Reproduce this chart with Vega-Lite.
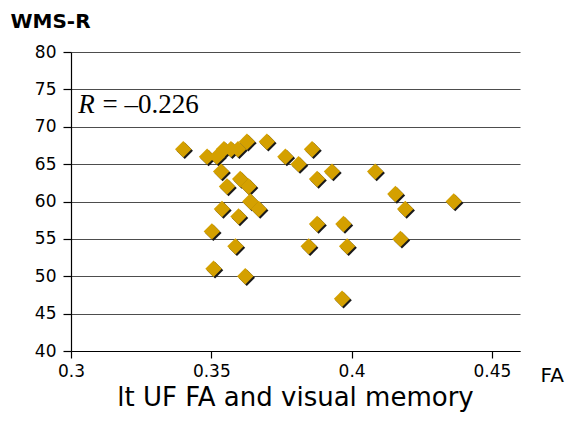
{
  "$schema": "https://vega.github.io/schema/vega-lite/v6.json",
  "width": 449,
  "height": 299,
  "autosize": {"type": "none"},
  "padding": {"left": 71, "top": 52, "right": 52, "bottom": 71},
  "background": "white",
  "config": {"view": {"stroke": null}, "font": "DejaVu Sans"},
  "title": {
    "text": "lt UF FA and visual memory",
    "orient": "bottom",
    "anchor": "middle",
    "fontSize": 26,
    "fontWeight": "normal",
    "font": "DejaVu Sans",
    "color": "black",
    "offset": 0
  },
  "datasets": {
    "points": [
      {"fa": 0.340, "wms": 67},
      {"fa": 0.3485, "wms": 66},
      {"fa": 0.352, "wms": 66},
      {"fa": 0.3545, "wms": 67},
      {"fa": 0.357, "wms": 67},
      {"fa": 0.3595, "wms": 67},
      {"fa": 0.3627, "wms": 68},
      {"fa": 0.3698, "wms": 68},
      {"fa": 0.3535, "wms": 64},
      {"fa": 0.3556, "wms": 62},
      {"fa": 0.3603, "wms": 63},
      {"fa": 0.3633, "wms": 62},
      {"fa": 0.3538, "wms": 59},
      {"fa": 0.3597, "wms": 58},
      {"fa": 0.3639, "wms": 60},
      {"fa": 0.3669, "wms": 59},
      {"fa": 0.3502, "wms": 56},
      {"fa": 0.3586, "wms": 54},
      {"fa": 0.3508, "wms": 51},
      {"fa": 0.3621, "wms": 50},
      {"fa": 0.3764, "wms": 66},
      {"fa": 0.3859, "wms": 67},
      {"fa": 0.3811, "wms": 65},
      {"fa": 0.3877, "wms": 63},
      {"fa": 0.3930, "wms": 64},
      {"fa": 0.3877, "wms": 57},
      {"fa": 0.3971, "wms": 57},
      {"fa": 0.3847, "wms": 54},
      {"fa": 0.3984, "wms": 54},
      {"fa": 0.3966, "wms": 47},
      {"fa": 0.4084, "wms": 64},
      {"fa": 0.4156, "wms": 61},
      {"fa": 0.4191, "wms": 59},
      {"fa": 0.4364, "wms": 60},
      {"fa": 0.4174, "wms": 55}
    ]
  },
  "encoding": {
    "x": {
      "field": "fa", "type": "quantitative",
      "scale": {"domain": [0.3, 0.46], "nice": false, "zero": false},
      "axis": {
        "values": [0.3, 0.35, 0.4, 0.45], "format": "~g",
        "grid": false, "domainColor": "black", "domainWidth": 1.2,
        "tickColor": "black", "tickSize": 7, "tickWidth": 1.2,
        "labelFont": "DejaVu Sans", "labelFontSize": 17, "labelColor": "black", "labelPadding": 5, "labelFlush": false, "labelOverlap": false,
        "title": "FA", "titleFont": "DejaVu Sans", "titleFontSize": 20, "titleFontWeight": "normal", "titleColor": "black",
        "titleX": 469, "titleY": 30, "titleAlign": "left", "titleBaseline": "alphabetic"
      }
    },
    "y": {
      "field": "wms", "type": "quantitative",
      "scale": {"domain": [40, 80], "nice": false, "zero": false},
      "axis": {
        "values": [40, 45, 50, 55, 60, 65, 70, 75, 80], "tickCount": 9,
        "grid": true, "gridColor": "#4d4d4d", "gridWidth": 1.2,
        "domainColor": "black", "domainWidth": 1.2,
        "tickColor": "black", "tickSize": 8, "tickWidth": 1.2,
        "labelFont": "DejaVu Sans", "labelFontSize": 17, "labelColor": "black", "labelPadding": 7, "labelOverlap": false,
        "title": "WMS-R", "titleFont": "DejaVu Sans", "titleFontSize": 20, "titleFontWeight": "bold", "titleColor": "black",
        "titleAngle": 0, "titleX": -61, "titleY": -25, "titleAlign": "left", "titleBaseline": "alphabetic"
      }
    }
  },
  "layer": [
    {
      "data": {"name": "points"},
      "mark": {"type": "point", "shape": "diamond", "filled": true, "color": "#1a1a1a", "opacity": 1, "size": 270, "xOffset": 1.5, "yOffset": 1.5}
    },
    {
      "data": {"name": "points"},
      "mark": {"type": "point", "shape": "diamond", "filled": true, "color": "#D4A000", "opacity": 1, "size": 270}
    },
    {
      "data": {"values": [{"label": "R", "fa": 0.3026, "wms": 71.9}]},
      "mark": {"type": "text", "font": "Liberation Serif", "fontStyle": "italic", "fontSize": 27, "align": "left", "baseline": "alphabetic", "color": "black"},
      "encoding": {"text": {"field": "label"}}
    },
    {
      "data": {"values": [{"label": "= –0.226", "fa": 0.3112, "wms": 71.9}]},
      "mark": {"type": "text", "font": "Liberation Serif", "fontSize": 27, "align": "left", "baseline": "alphabetic", "color": "black"},
      "encoding": {"text": {"field": "label"}}
    }
  ]
}
